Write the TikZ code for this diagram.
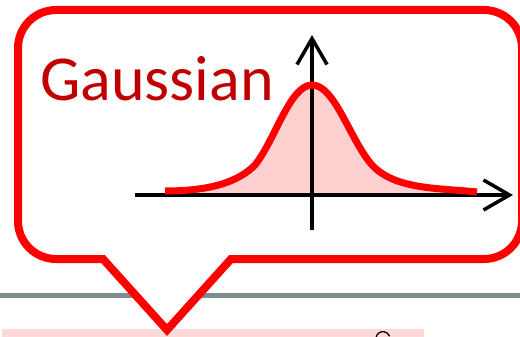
\documentclass[tikz,border=0pt]{standalone}
\usepackage{fontspec}
\setmainfont{Carlito}
\usetikzlibrary{arrows.meta}
\definecolor{calloutred}{RGB}{255,0,0}
\definecolor{titlered}{RGB}{192,0,0}
\definecolor{rulegray}{RGB}{126,140,141}
\definecolor{fillpink}{RGB}{255,208,208}
\definecolor{barpink}{RGB}{255,217,217}
\tikzset{
  calloutline/.style={draw=calloutred, line width=8pt, fill=white, miter limit=10},
  axisline/.style={draw=black, line width=3.5pt, -{Straight Barb[length=26pt,width=30pt,line width=3.5pt]}},
  curveline/.style={draw=calloutred, line width=7pt},
}
\begin{document}
\begin{tikzpicture}[x=1pt,y=-1pt]
\useasboundingbox (0,0) rectangle (520,337);
% gray rule
\draw[rulegray, line width=5pt] (0,295) -- (520,295);
% pink bar
\fill[barpink] (2,329) rectangle (424,337);
\draw[black, line width=1.3pt] (376,338) arc[start angle=185, end angle=340, radius=7];
% callout
\path[calloutline] (167,330) -- (103,259) -- (56,259)
  arc[start angle=90, end angle=180, radius=38] -- (18,48)
  arc[start angle=180, end angle=270, radius=38] -- (484,10)
  arc[start angle=270, end angle=360, radius=38] -- (522,221)
  arc[start angle=0, end angle=90, radius=38] -- (231,259) -- cycle;
% title
\node[text=titlered, font=\fontsize{64}{64}\selectfont, anchor=base west, inner sep=0pt] (title) at (40,100) {Gaussian};
% gaussian fill and curve
\coordinate (c0) at (165,191);
\coordinate (cpk) at (312,85);
\coordinate (c9) at (477,192);
\fill[fillpink] (c0) .. controls (215,191) and (240,180) .. (255,165)
  .. controls (275,140) and (290,85) .. (cpk)
  .. controls (335,85) and (350,140) .. (372,165)
  .. controls (395,190) and (440,188) .. (c9) -- (477,195) -- (165,195) -- cycle;
\coordinate (xs) at (135,195);
\coordinate (xe) at (513,195);
\coordinate (ys) at (312,230);
\coordinate (ye) at (312,35);
\draw[axisline] (xs) -- (xe);
\draw[axisline] (ys) -- (ye);
\draw[curveline] (c0) .. controls (215,191) and (240,180) .. (255,165)
  .. controls (275,140) and (290,85) .. (cpk)
  .. controls (335,85) and (350,140) .. (372,165)
  .. controls (395,190) and (440,188) .. (c9);
\end{tikzpicture}
\end{document}
